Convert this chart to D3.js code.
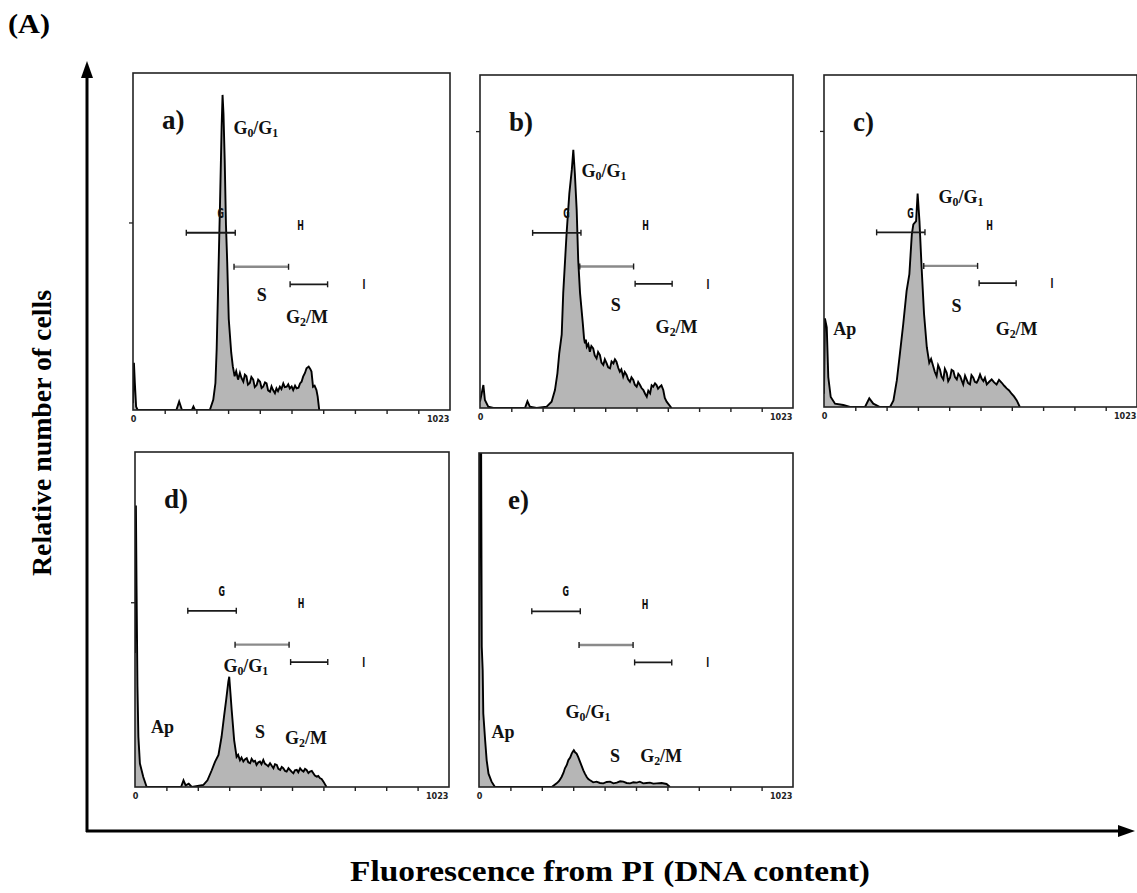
<!DOCTYPE html>
<html>
<head>
<meta charset="utf-8">
<script src="https://cdn.jsdelivr.net/npm/d3@7"></script>
<style>
  body { margin: 0; background: #fff; }
  svg { display: block; }
</style>
</head>
<body>
<div id="app"></div>
<script>
const width = 1137,
    height = 893;

// histograms, [channel, relative count %]
const histA = [[0,2],[3,14],[6,8],[10,1],[15,0],[140,0],[149,2.5],[158,0],[190,0],[195,1],[200,0],
  [248,0],[259,3],[266,8],[270,18],[275,38],[281,62],[286,84],[289,93.5],[292,88],[296,74],[300,55],
  [304,44],[309,27],[317,17],[322,13],[328,10],[333,11.5],[339,9],[345,11],[350,9.5],[356,8.4],[361,10.5],
  [366,10],[371,7.5],[377,8],[382,9.8],[388,9],[393,6.8],[399,7.4],[404,9],[410,8.4],[415,6.5],[420,6.9],
  [426,8.2],[431,7.9],[436,5.8],[442,5.4],[447,7],[452,5.9],[458,5],[463,6.4],[468,5.6],[474,6.9],
  [479,6.2],[485,7.9],[490,6.8],[496,6.9],[501,7.6],[506,6.4],[512,7],[517,5.9],[523,7.2],[528,6.4],
  [534,6.6],[539,7.9],[544,8.4],[549,9.9],[555,11],[560,12.4],[567,12.9],[572,12.2],[576,11.4],[581,6.9],
  [586,7.2],[592,5.9],[596,4],[601,0]];
const histB = [[0,1.9],[11,6.9],[16,2.4],[27,0.4],[44,0],[147,0],[155,2],[163,0.4],[185,0],[218,0.4],
  [234,1.9],[245,5.4],[253,10.4],[259,16.4],[267,22],[272,34.5],[283,52.4],[292,64.5],[300,71.5],
  [305,77.5],[310,70.5],[316,59.5],[321,44.4],[327,34.5],[336,25.4],[340,21],[343,19.4],[346,20.5],
  [349,18.4],[354,19.2],[359,16.9],[364,18.6],[370,17.9],[375,15.8],[381,14.9],[386,16.8],[392,15.9],
  [397,13.6],[403,12.9],[408,14.6],[414,13.4],[419,12.2],[425,11.9],[430,14],[436,13.4],[441,14.6],
  [446,13.9],[452,12],[457,10.9],[462,11.6],[468,9.4],[473,10.8],[479,9.9],[484,8.6],[490,7.9],
  [495,9.2],[501,8.4],[506,7],[512,6.4],[517,7.8],[523,6.9],[528,6],[534,5.4],[540,4.2],[545,3.4],
  [550,5.2],[556,4.4],[561,6.8],[566,6.4],[572,7.4],[577,6.9],[582,5.8],[588,6.4],[593,6.8],[599,5.4],
  [604,3],[610,1.9],[626,0]];
const histC = [[0,4],[3,26.7],[9,24],[14,9],[22,3],[36,1],[63,0.6],[85,0],[134,0],[148,2.6],[161,1],
  [183,0],[216,0],[227,2],[238,8],[248,16],[259,25],[270,35],[279,40],[287,52],[292,55],[301,56],
  [306,64.3],[312,56],[319,42],[327,28],[336,18],[344,13.3],[350,14.5],[357,12.3],[362,10.6],[368,9.3],
  [373,12.6],[379,11.3],[384,9.2],[390,8.3],[395,11.5],[401,10.3],[406,7.8],[412,8.8],[417,11.2],
  [423,10.8],[428,9],[434,8.3],[439,10],[445,9.3],[450,8],[455,6.8],[461,9.4],[466,8.3],[471,7.2],
  [477,6.8],[482,9.6],[488,8.8],[493,7.6],[499,7.3],[504,8.2],[510,9.8],[515,8.6],[521,7.8],[526,8.8],
  [532,6.8],[540,7.6],[548,8.3],[556,7.4],[564,6.8],[572,8.2],[581,7.3],[589,6.4],[597,5.6],[605,5],
  [613,4],[621,3.2],[630,2],[640,0]];
const histD = [[0,40],[3,84],[5,60],[8,30],[11,15],[16,7],[27,3],[38,0],[150,0],[158,2],[165,0.5],
  [175,1],[185,0],[223,0.6],[236,2],[250,5],[261,7.6],[272,9.6],[282,15],[290,21],[297,26],[304,31.4],
  [307,32.9],[311,28],[315,23],[323,14],[331,9],[336,9.6],[342,8],[347,8.8],[353,7.6],[358,8.2],
  [364,8.6],[369,7.4],[375,7.1],[380,8.4],[386,7.6],[391,7.8],[396,6.6],[402,7.4],[407,7.6],[412,6.8],
  [418,8.1],[423,7],[429,6.6],[434,6.2],[440,7.1],[445,6.4],[451,5.6],[456,6.8],[462,6.6],[467,5.4],
  [473,5.1],[478,6],[483,5.6],[489,4.8],[494,4.6],[500,5.6],[505,5.1],[510,4.6],[516,4.1],[521,5],
  [527,5.1],[532,4.4],[538,5.6],[543,5],[549,4.6],[554,5.4],[559,5.1],[565,4.2],[570,4.6],[576,4.8],
  [581,4.1],[586,3.4],[592,3.1],[597,3.3],[603,2.6],[608,2.4],[614,1.6],[624,0]];
const histE = [[0,20],[3,100],[7,100],[9,42],[12,35],[14,22],[20,14],[25,8],[31,4],[41,1.6],[52,0],
  [237,0],[253,1.1],[261,1.8],[269,3],[275,4.2],[280,5.6],[286,6.6],[291,8],[297,8.8],[302,10],
  [306,10.6],[309,11],[313,10.4],[318,10],[323,9],[329,7.6],[334,6.4],[340,5],[345,4],[351,3],
  [356,2.4],[362,2],[372,1.4],[383,1.6],[394,1.2],[405,1.1],[416,1.5],[427,1.6],[438,1.1],[449,1.3],
  [460,1.7],[470,1.6],[481,1.2],[492,1.1],[503,1.4],[514,1.3],[524,1.6],[535,1.1],[546,1.2],[557,1.3],
  [568,1],[579,1.1],[595,1.2],[611,0.9],[622,0]];

// marker gates (same in every panel)
const gateNames = ["G", "H", "I"];
const gateStart = [172, 326, 507];
const gateEnd = [330, 502, 628];
const gateLevel = [52.6, 42.5, 37.3];
const gateLabelX = [283, 541, 745];
const gateLabelY = [58.5, 54.8, 37.3];

// phase annotations [text, channel, %]
const labelsA = [["G0/G1", 324, 81.9], ["S", 399, 32.4], ["G2/M", 494, 25.9]];
const labelsB = [["G0/G1", 332, 69.3], ["S", 427, 29.2], ["G2/M", 574, 22.4]];
const labelsC = [["Ap", 30, 21.7], ["G0/G1", 374, 61.4], ["S", 417, 28.7], ["G2/M", 561, 21.7]];
const labelsD = [["Ap", 52, 16], ["G0/G1", 288, 34.4], ["S", 391, 14.5], ["G2/M", 489, 12.8]];
const labelsE = [["Ap", 41, 14.6], ["G0/G1", 282, 20.6], ["S", 427, 7.6], ["G2/M", 525, 7.6]];

const panelNames = ["a)", "b)", "c)", "d)", "e)"];
const yTickValues = [55.5, 83, 83, 55, null];
const xTickLabels = ["0", "1023"];

const panels = [
  {name: panelNames[0], hist: histA, labels: labelsA, ytick: yTickValues[0], box: {x: 133, y: 73, w: 317, h: 337}},
  {name: panelNames[1], hist: histB, labels: labelsB, ytick: yTickValues[1], box: {x: 480, y: 75, w: 313, h: 333}},
  {name: panelNames[2], hist: histC, labels: labelsC, ytick: yTickValues[2], box: {x: 824, y: 75, w: 313, h: 332}},
  {name: panelNames[3], hist: histD, labels: labelsD, ytick: yTickValues[3], box: {x: 135, y: 452, w: 314, h: 335}},
  {name: panelNames[4], hist: histE, labels: labelsE, ytick: yTickValues[4], box: {x: 479, y: 453, w: 314, h: 334}}
];

const serif = "'Liberation Serif', 'Times New Roman', serif";
const narrow = "'Liberation Sans Narrow', 'DejaVu Sans Condensed', 'Arial Narrow', sans-serif";

const svg = d3.select("#app")
    .append("svg")
    .attr("width", width)
    .attr("height", height);

// text with digit subscripts (G0/G1 etc)
function richText(t, str) {
  let sub = false;
  str.split(/(\d)/).forEach(p => {
    if (!p) return;
    if (/\d/.test(p)) {
      t.append("tspan").attr("font-size", "0.66em").attr("dy", 3).text(p);
      sub = true;
    } else {
      t.append("tspan").attr("dy", sub ? -3 : 0).text(p);
      sub = false;
    }
  });
}

panels.forEach((p, i) => {
  const b = p.box;
  const x = d3.scaleLinear().domain([0, 1023]).range([b.x, b.x + b.w]);
  const y = d3.scaleLinear().domain([0, 100]).range([b.y + b.h, b.y]);
  const g = svg.append("g").attr("class", "panel");

  g.append("clipPath").attr("id", "clip" + i)
    .append("rect").attr("x", b.x).attr("y", b.y).attr("width", b.w).attr("height", b.h);

  const area = d3.area().x(d => x(d[0])).y0(y(0)).y1(d => y(d[1]));
  const line = d3.line().x(d => x(d[0])).y(d => y(d[1]));

  g.append("path").datum(p.hist)
    .attr("clip-path", `url(#clip${i})`)
    .attr("d", area)
    .attr("fill", "#b6b6b6");
  g.append("path").datum(p.hist)
    .attr("clip-path", `url(#clip${i})`)
    .attr("d", line)
    .attr("fill", "none")
    .attr("stroke", "#000")
    .attr("stroke-width", 1.9)
    .attr("stroke-linejoin", "miter");

  // frame
  g.append("rect")
    .attr("x", b.x).attr("y", b.y).attr("width", b.w).attr("height", b.h)
    .attr("fill", "none").attr("stroke", "#222").attr("stroke-width", 1.6);

  // x axis
  const ax = g.append("g")
    .attr("transform", `translate(0,${b.y + b.h})`)
    .call(d3.axisBottom(x)
      .tickValues(d3.range(0, 11).map(k => k * 102.3))
      .tickSize(4)
      .tickFormat((d, k) => k === 0 ? xTickLabels[0] : (k === 10 ? xTickLabels[1] : "")));
  ax.select(".domain").remove();
  ax.selectAll(".tick line").attr("stroke", "#222").attr("stroke-width", 1.4)
    .filter((d, k) => k === 0 || k === 10).remove();
  ax.selectAll(".tick text")
    .attr("y", 6)
    .attr("font-family", narrow).attr("font-weight", "bold").attr("font-size", 9).attr("fill", "#222");
  ax.selectAll(".tick text").filter((d, k) => k === 10).attr("text-anchor", "end").attr("dx", -1);

  // y tick
  if (p.ytick != null) {
    g.append("line")
      .attr("x1", b.x - 4).attr("x2", b.x)
      .attr("y1", y(p.ytick)).attr("y2", y(p.ytick))
      .attr("stroke", "#222").attr("stroke-width", 1.3);
  }

  // gates
  gateNames.forEach((n, k) => {
    const gg = g.append("g").attr("clip-path", `url(#clip${i})`);
    const col = n === "H" ? "#8a8a8a" : "#1a1a1a";
    gg.append("line")
      .attr("x1", x(gateStart[k])).attr("x2", x(gateEnd[k]))
      .attr("y1", y(gateLevel[k])).attr("y2", y(gateLevel[k]))
      .attr("stroke", col).attr("stroke-width", n === "H" ? 2.4 : 1.8);
    [gateStart[k], gateEnd[k]].forEach(v => {
      gg.append("line")
        .attr("x1", x(v)).attr("x2", x(v))
        .attr("y1", y(gateLevel[k]) - 3).attr("y2", y(gateLevel[k]) + 3)
        .attr("stroke", "#1a1a1a").attr("stroke-width", 1.4);
    });
    gg.append("text")
      .attr("transform", `translate(${x(gateLabelX[k])},${y(gateLabelY[k])}) scale(0.8,1.25)`)
      .attr("dy", "0.35em")
      .attr("text-anchor", "middle")
      .attr("font-family", narrow).attr("font-weight", "bold").attr("font-size", 11)
      .attr("fill", "#111")
      .text(n);
  });

  // panel letter
  g.append("text")
    .attr("x", b.x + 29).attr("y", b.y + 56)
    .attr("font-family", serif).attr("font-weight", "bold").attr("font-size", 27)
    .attr("fill", "#111")
    .text(p.name);

  // phase labels
  p.labels.forEach(l => {
    const t = g.append("text")
      .attr("x", x(l[1])).attr("y", y(l[2]))
      .attr("font-family", serif).attr("font-weight", "bold").attr("font-size", 18)
      .attr("fill", "#111");
    richText(t, l[0]);
  });
});

// big axis arrows
svg.append("line").attr("x1", 87).attr("x2", 87).attr("y1", 832).attr("y2", 74)
  .attr("stroke", "#000").attr("stroke-width", 3);
svg.append("path").attr("d", "M87,61 L81,78 L93,78 Z").attr("fill", "#000");
svg.append("line").attr("x1", 86).attr("x2", 1121).attr("y1", 831).attr("y2", 831)
  .attr("stroke", "#000").attr("stroke-width", 3);
svg.append("path").attr("d", "M1135,831 L1118,825 L1118,837 Z").attr("fill", "#000");

svg.append("text")
  .attr("x", 8).attr("y", 33)
  .attr("font-family", serif).attr("font-weight", "bold").attr("font-size", 28)
  .attr("textLength", 42).attr("lengthAdjust", "spacingAndGlyphs")
  .text("(A)");

svg.append("text")
  .attr("transform", "translate(51,433) rotate(-90)")
  .attr("text-anchor", "middle")
  .attr("font-family", serif).attr("font-weight", "bold").attr("font-size", 27)
  .attr("textLength", 286).attr("lengthAdjust", "spacingAndGlyphs")
  .text("Relative number of cells");

svg.append("text")
  .attr("x", 610).attr("y", 881)
  .attr("text-anchor", "middle")
  .attr("font-family", serif).attr("font-weight", "bold").attr("font-size", 29)
  .attr("textLength", 520).attr("lengthAdjust", "spacingAndGlyphs")
  .text("Fluorescence from PI (DNA content)");
</script>
</body>
</html>
